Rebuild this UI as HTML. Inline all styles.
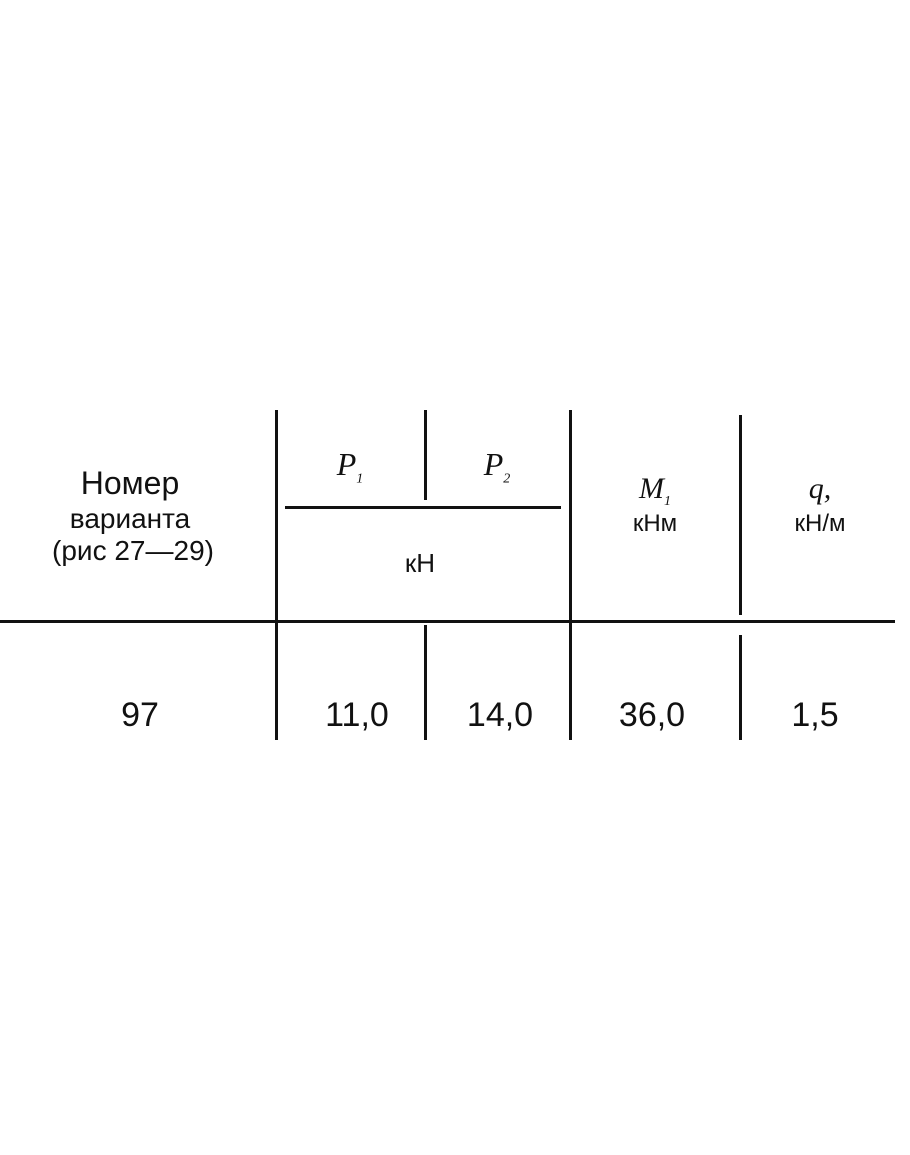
<!DOCTYPE html>
<html><head><meta charset="utf-8"><style>
body{margin:0;width:910px;height:1155px;background:#fff;position:relative;overflow:hidden;font-family:"Liberation Sans","DejaVu Sans",sans-serif;color:#111}
.v{position:absolute;width:3px;background:#111}
.h{position:absolute;height:3px;background:#111}
.t{position:absolute;white-space:nowrap;transform:translateX(-50%);line-height:1}
.i{font-family:"Liberation Serif",serif;font-style:italic}
</style></head><body>
<div class="v" style="left:275px;top:410px;height:330px"></div>
<div class="v" style="left:424px;top:410px;height:90px"></div>
<div class="v" style="left:424px;top:625px;height:115px"></div>
<div class="v" style="left:569px;top:410px;height:330px"></div>
<div class="v" style="left:739px;top:415px;height:200px"></div>
<div class="v" style="left:739px;top:635px;height:105px"></div>
<div class="h" style="left:285px;top:506px;width:276px"></div>
<div class="h" style="left:0;top:620px;width:895px"></div>

<div class="t" style="left:130px;top:467px;font-size:32px">Номер</div>
<div class="t" style="left:130px;top:505px;font-size:28px">варианта</div>
<div class="t" style="left:133px;top:537px;font-size:28px">(рис 27—29)</div>
<div class="t i" style="left:350px;top:448px;font-size:32px">P<sub style="font-size:14px">1</sub></div>
<div class="t i" style="left:497px;top:448px;font-size:32px">P<sub style="font-size:14px">2</sub></div>
<div class="t" style="left:420px;top:550px;font-size:26px">кН</div>
<div class="t i" style="left:655px;top:474px;font-size:30px">M<sub style="font-size:14px">1</sub></div>
<div class="t" style="left:655px;top:512px;font-size:24px">кНм</div>
<div class="t i" style="left:820px;top:474px;font-size:30px">q,</div>
<div class="t" style="left:820px;top:512px;font-size:24px">кН/м</div>

<div class="t" style="left:140px;top:698px;font-size:34px">97</div>
<div class="t" style="left:357px;top:698px;font-size:34px">11,0</div>
<div class="t" style="left:500px;top:698px;font-size:34px">14,0</div>
<div class="t" style="left:652px;top:698px;font-size:34px">36,0</div>
<div class="t" style="left:815px;top:698px;font-size:34px">1,5</div>
</body></html>
